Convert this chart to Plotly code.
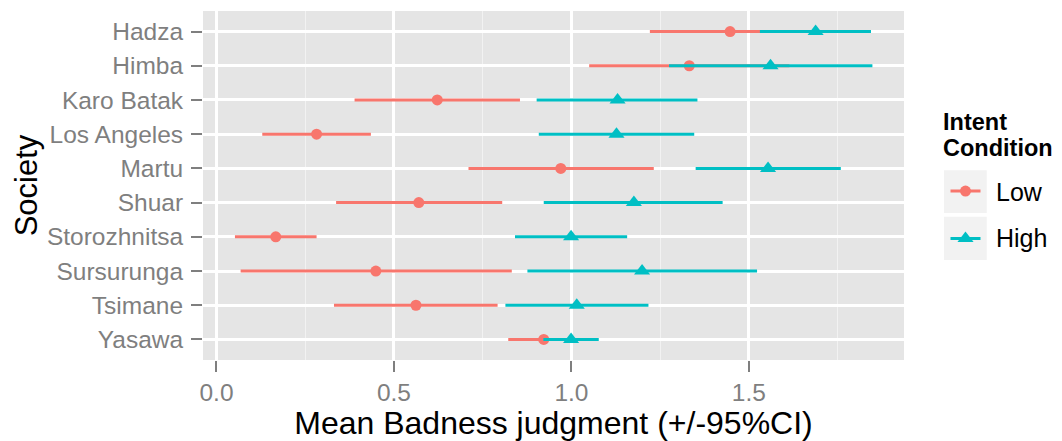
import plotly.graph_objects as go

# Data
societies = ['Hadza', 'Himba', 'Karo Batak', 'Los Angeles', 'Martu',
             'Shuar', 'Storozhnitsa', 'Sursurunga', 'Tsimane', 'Yasawa']

low_mean = [1.447, 1.332, 0.622, 0.282, 0.970, 0.570, 0.167, 0.449, 0.562, 0.922]
low_lo   = [1.221, 1.050, 0.389, 0.129, 0.710, 0.337, 0.052, 0.068, 0.331, 0.822]
low_hi   = [1.673, 1.614, 0.855, 0.435, 1.232, 0.805, 0.282, 0.832, 0.792, 1.022]

high_mean = [1.688, 1.561, 1.130, 1.127, 1.554, 1.176, 0.999, 1.199, 1.015, 0.999]
high_lo   = [1.531, 1.275, 0.902, 0.908, 1.350, 0.922, 0.841, 0.876, 0.814, 0.921]
high_hi   = [1.844, 1.848, 1.355, 1.346, 1.759, 1.426, 1.157, 1.523, 1.217, 1.077]

conditions = ['Low', 'High']

RED = '#F8766D'
TEAL = '#00BFC4'
GREY = '#7F7F7F'
FONT = 'Liberation Sans, Arial, sans-serif'


def ci_trace(name, mean, lo, hi, color, symbol, size):
    return go.Scatter(
        x=mean, y=societies, mode='markers', name=name, showlegend=False,
        marker=dict(color=color, symbol=symbol, size=size, line=dict(width=0)),
        error_x=dict(type='data', symmetric=False,
                     array=[h - m for h, m in zip(hi, mean)],
                     arrayminus=[m - l for m, l in zip(mean, lo)],
                     color=color, thickness=3, width=0),
    )


fig = go.Figure()
fig.add_trace(ci_trace('Low', low_mean, low_lo, low_hi, RED, 'circle', 11))
fig.add_trace(ci_trace('High', high_mean, high_lo, high_hi, TEAL, 'triangle-up', 14))

# legend keys only (line through marker like the ggplot key); labels are annotations
# so the legend box stays narrow and isn't pushed in from the right edge
for name, color, symbol, size in zip(conditions, [RED, TEAL], ['circle', 'triangle-up'], [11, 14]):
    fig.add_trace(go.Scatter(x=[None], y=[None], mode='lines+markers', name=' ',
                             legendgroup=name,
                             line=dict(color=color, width=3),
                             marker=dict(color=color, symbol=symbol, size=size)))

# grey key backgrounds
for y0, y1 in [(0.421, 0.544), (0.2865, 0.4106)]:
    fig.add_shape(type='rect', xref='paper', yref='paper', x0=1.057, x1=1.118,
                  y0=y0, y1=y1, fillcolor='#F2F2F2', line=dict(width=0), layer='below')

# legend labels
for txt, yy in zip(conditions, [0.4828, 0.3496]):
    fig.add_annotation(text=txt, xref='paper', yref='paper',
                       x=1.1285, y=yy, xanchor='left', yanchor='middle',
                       showarrow=False, font=dict(size=25, color='black'))

# legend title
for txt, yy in [('Intent', 0.682), ('Condition', 0.6074)]:
    fig.add_annotation(text='<b>%s</b>' % txt, xref='paper', yref='paper',
                       x=1.0528, y=yy, xanchor='left', yanchor='middle',
                       showarrow=False, font=dict(size=23.5, color='black'))

# page has an 8px body margin, so the figure is 8px smaller and margins shifted
fig.update_layout(
    width=1054, height=433,
    margin=dict(l=195, r=158, t=3, b=81),
    paper_bgcolor='white',
    plot_bgcolor='#E5E5E5',
    font=dict(family=FONT, color='black'),
    xaxis=dict(
        range=[-0.038, 1.937], tick0=0, dtick=0.5, tickformat='.1f',
        ticks='outside', ticklen=11, tickwidth=2, tickcolor=GREY,
        tickfont=dict(size=24.5, color=GREY),
        showgrid=True, gridcolor='white', gridwidth=2.5,
        minor=dict(tick0=0.25, dtick=0.5, showgrid=True, gridcolor='#F2F2F2', gridwidth=1.2),
        zeroline=False, showline=False,
        title=dict(text='Mean Badness judgment (+/-95%CI)', font=dict(size=32, color='black'), standoff=4),
    ),
    yaxis=dict(
        categoryorder='array', categoryarray=societies, range=[9.6, -0.6],
        ticks='outside', ticklen=11, tickwidth=2, tickcolor=GREY,
        tickfont=dict(size=24.5, color=GREY), ticklabelstandoff=3,
        showgrid=True, gridcolor='white', gridwidth=2.5,
        zeroline=False, showline=False,
        title=dict(text='Society', font=dict(size=31, color='black'), standoff=0),
    ),
    legend=dict(
        x=1.0592, xanchor='left', y=0.416, yanchor='middle',
        font=dict(size=25, color='black'),
        tracegroupgap=12, bgcolor='rgba(0,0,0,0)',
    ),
)

fig.write_html('out.html')
